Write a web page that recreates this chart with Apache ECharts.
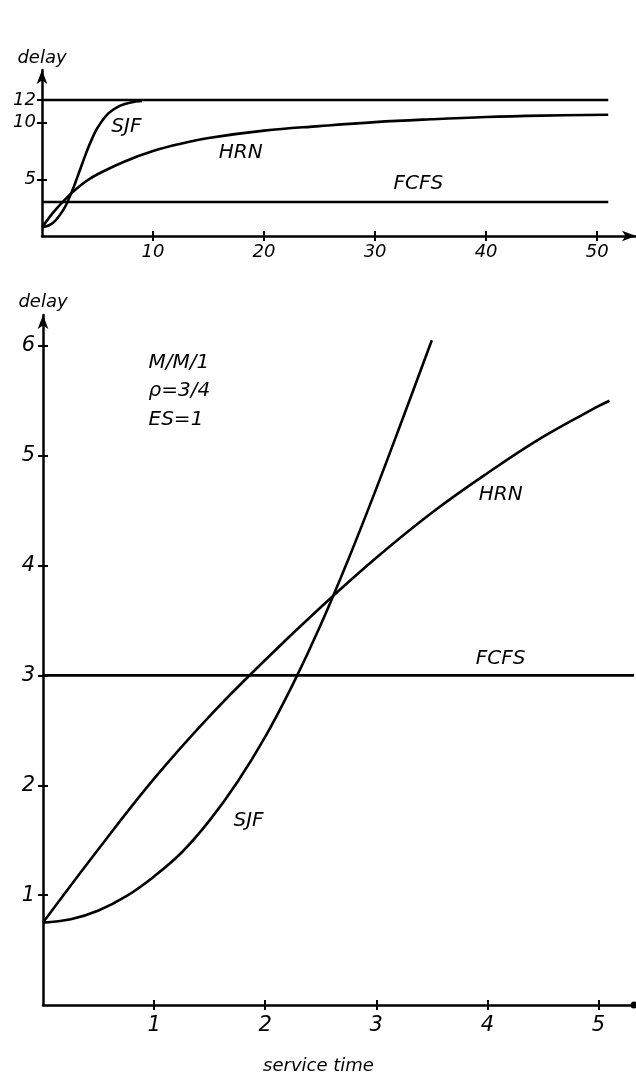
<!DOCTYPE html>
<html>
<head>
<meta charset="utf-8">
<title>delay vs service time</title>
<script src="https://cdn.jsdelivr.net/npm/echarts@6/dist/echarts.min.js"></script>
<style>
  html, body { margin: 0; padding: 0; background: #fff; }
  #chart { width: 636px; height: 1080px; }
</style>
</head>
<body>
<div id="chart"></div>
<script>
// Mean delay per job vs. its service time, M/M/1, rho = 3/4, ES = 1.
// Upper panel: long-range view (service time 0..50). Lower panel: close-up (0..5).

// upper panel
const sjfWideX = [0, 1, 2, 2.5, 3, 3.5, 4, 4.5, 5, 6, 7, 8, 9];
const sjfWideY = [0.75, 1.17, 2.44, 3.46, 4.7, 6.05, 7.38, 8.57, 9.55, 10.84, 11.49, 11.79, 11.92];
const hrnWideX = [0, 1, 2, 3, 4, 5, 7.5, 10, 12.5, 15, 20, 25, 30, 35, 40, 45, 51];
const hrnWideY = [0.75, 2.06, 3.14, 4.08, 4.85, 5.45, 6.6, 7.5, 8.15, 8.65, 9.3, 9.7, 10.05, 10.3, 10.5, 10.62, 10.7];
const limitWideX = [0, 51];
const limitWideY = [12, 12];
const fcfsWideX = [0, 51];
const fcfsWideY = [3, 3];
const wideXTicks = [10, 20, 30, 40, 50];
const wideYTicks = [5, 10, 12];

// lower panel
const sjfX = [0, 0.25, 0.5, 0.75, 1, 1.25, 1.5, 1.75, 2, 2.25, 2.5, 2.75, 3, 3.25, 3.5];
const sjfY = [0.75, 0.78, 0.86, 0.99, 1.17, 1.39, 1.68, 2.03, 2.44, 2.92, 3.46, 4.06, 4.7, 5.37, 6.05];
const hrnX = [0, 0.5, 1, 1.5, 2, 2.5, 3, 3.5, 4, 4.5, 5, 5.1];
const hrnY = [0.75, 1.42, 2.06, 2.63, 3.14, 3.62, 4.07, 4.48, 4.84, 5.17, 5.45, 5.5];
const fcfsX = [0, 5.32];
const fcfsY = [3, 3];
const closeXTicks = [1, 2, 3, 4, 5];
const closeYTicks = [1, 2, 3, 4, 5, 6];

const pairs = (xs, ys) => xs.map((x, i) => [x, ys[i]]);

const INK = '#000';
const FONT = 'DejaVu Sans';

function valueAxis(opts) {
  return Object.assign({
    type: 'value',
    splitLine: { show: false },
    axisLine: { show: true, onZero: false, lineStyle: { color: INK, width: 2.5 } },
    axisTick: { show: true, length: 5, lineStyle: { color: INK, width: 2 } },
    axisLabel: { color: INK, fontFamily: FONT, fontStyle: 'italic' }
  }, opts);
}

// mirror axis: only inner ticks, so the tick marks cross the axis line
function tickMirror(opts, ticks) {
  return Object.assign({
    type: 'value',
    splitLine: { show: false },
    axisLine: { show: false },
    axisLabel: { show: false },
    axisTick: { show: true, inside: true, length: 5, customValues: ticks, lineStyle: { color: INK, width: 2 } }
  }, opts);
}

const curve = (name, data, xi, yi) => ({
  name, type: 'line', data, xAxisIndex: xi, yAxisIndex: yi,
  smooth: 0.4, showSymbol: false, symbol: 'none',
  lineStyle: { color: INK, width: 2.6 }, silent: true
});

const noteLabel = (size) => ({
  show: true, position: 'inside', color: INK, fontFamily: FONT,
  fontStyle: 'italic', fontSize: size, formatter: p => p.name
});

// text-only scatter used for in-plot annotations
const notes = (xi, yi, label, data) => ({
  type: 'scatter', xAxisIndex: xi, yAxisIndex: yi, symbolSize: 0, silent: true,
  itemStyle: { opacity: 1 }, label, data
});

const axisName = { color: INK, fontFamily: FONT, fontStyle: 'italic', fontSize: 18, align: 'center' };

const option = {
  animation: false,
  backgroundColor: '#fff',
  grid: [
    { left: 42, top: 70, width: 594, height: 166 },
    { left: 43, top: 315, width: 591, height: 697 }
  ],
  xAxis: [
    valueAxis({
      gridIndex: 0, min: 0, max: 53.5, position: 'bottom',
      axisLine: { show: true, onZero: false, symbol: ['none', 'arrow'], symbolSize: [8, 14], lineStyle: { color: INK, width: 2.5 } },
      axisTick: { show: true, length: 5, customValues: wideXTicks, lineStyle: { color: INK, width: 2 } },
      axisLabel: { color: INK, fontFamily: FONT, fontStyle: 'italic', fontSize: 18, margin: 7, customValues: wideXTicks }
    }),
    valueAxis({
      gridIndex: 1, min: 0, max: 5.32, position: 'bottom',
      name: 'service time', nameLocation: 'middle', nameGap: 52,
      nameTextStyle: { color: INK, fontFamily: FONT, fontStyle: 'italic', fontSize: 18, padding: [0, 40, 0, 0] },
      axisLine: { show: true, onZero: false, symbol: ['none', 'circle'], symbolSize: [7, 7], lineStyle: { color: INK, width: 2.5 } },
      axisTick: { show: true, length: 5, customValues: closeXTicks, lineStyle: { color: INK, width: 2 } },
      axisLabel: { color: INK, fontFamily: FONT, fontStyle: 'italic', fontSize: 21, margin: 10, customValues: closeXTicks }
    }),
    tickMirror({ gridIndex: 0, min: 0, max: 53.5, position: 'bottom' }, wideXTicks),
    tickMirror({ gridIndex: 1, min: 0, max: 5.32, position: 'bottom' }, closeXTicks)
  ],
  yAxis: [
    valueAxis({
      gridIndex: 0, min: 0, max: 14.65, position: 'left',
      name: 'delay', nameLocation: 'end', nameGap: 3, nameTextStyle: axisName,
      axisLine: { show: true, onZero: false, symbol: ['none', 'arrow'], symbolSize: [8, 14], lineStyle: { color: INK, width: 2.5 } },
      axisTick: { show: true, length: 5, customValues: wideYTicks, lineStyle: { color: INK, width: 2 } },
      axisLabel: { color: INK, fontFamily: FONT, fontStyle: 'italic', fontSize: 18, margin: 6, customValues: wideYTicks }
    }),
    valueAxis({
      gridIndex: 1, min: 0, max: 6.28, position: 'left',
      name: 'delay', nameLocation: 'end', nameGap: 4, nameTextStyle: axisName,
      axisLine: { show: true, onZero: false, symbol: ['none', 'arrow'], symbolSize: [8, 14], lineStyle: { color: INK, width: 2.5 } },
      axisTick: { show: true, length: 5, customValues: closeYTicks, lineStyle: { color: INK, width: 2 } },
      axisLabel: { color: INK, fontFamily: FONT, fontStyle: 'italic', fontSize: 21, margin: 8, customValues: closeYTicks }
    }),
    tickMirror({ gridIndex: 0, min: 0, max: 14.65, position: 'left' }, wideYTicks),
    tickMirror({ gridIndex: 1, min: 0, max: 6.28, position: 'left' }, closeYTicks)
  ],
  series: [
    // upper panel
    curve('SJF limit', pairs(limitWideX, limitWideY), 0, 0),
    curve('FCFS', pairs(fcfsWideX, fcfsWideY), 0, 0),
    curve('HRN', pairs(hrnWideX, hrnWideY), 0, 0),
    curve('SJF', pairs(sjfWideX, sjfWideY), 0, 0),
    notes(0, 0, noteLabel(20), [
      { name: 'SJF', value: [7.6, 9.6] },
      { name: 'HRN', value: [17.9, 7.33] },
      { name: 'FCFS', value: [33.9, 4.6] }
    ]),
    // lower panel
    curve('FCFS', pairs(fcfsX, fcfsY), 1, 1),
    curve('HRN', pairs(hrnX, hrnY), 1, 1),
    curve('SJF', pairs(sjfX, sjfY), 1, 1),
    notes(1, 1, noteLabel(20), [
      { name: 'HRN', value: [4.12, 4.64] },
      { name: 'FCFS', value: [4.12, 3.15] },
      { name: 'SJF', value: [1.85, 1.68] }
    ]),
    notes(1, 1,
      Object.assign(noteLabel(20), { position: 'right', distance: 0, lineHeight: 28.5, align: 'left' }),
      [{ name: 'M/M/1\nρ=3/4\nES=1', value: [0.95, 5.59] }])
  ]
};

const chart = echarts.init(document.getElementById('chart'), null, { renderer: 'canvas' });
chart.setOption(option);
</script>
</body>
</html>
